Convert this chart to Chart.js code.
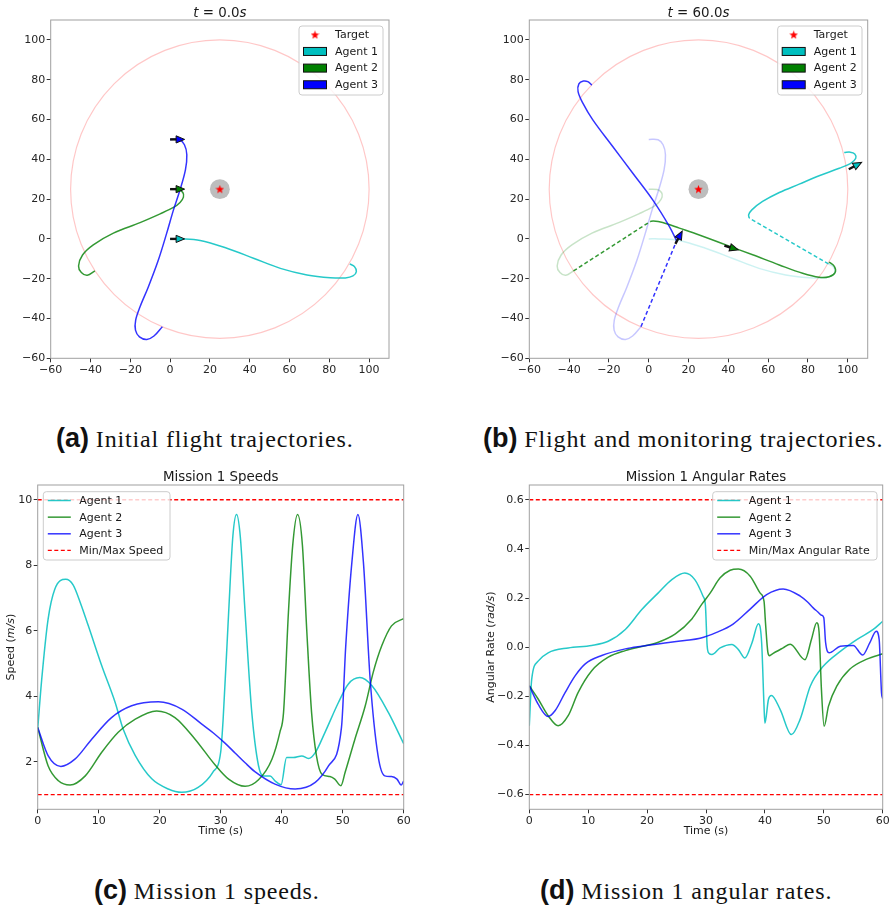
<!DOCTYPE html>
<html><head><meta charset="utf-8">
<script src="https://cdn.jsdelivr.net/npm/chart.js@4.4.1/dist/chart.umd.min.js"></script>
<style>
html,body{margin:0;padding:0;background:#fff;}
body{width:893px;height:912px;position:relative;overflow:hidden;}
canvas{position:absolute;}
.cap{position:absolute;white-space:nowrap;font-family:'Liberation Serif',serif;font-size:24px;letter-spacing:0.85px;line-height:30px;height:30px;color:#111;}
.cap b{font-family:'Liberation Sans',Arial,sans-serif;font-size:27px;letter-spacing:0;}
</style></head><body>
<canvas id="ca" width="446" height="400" style="left:0;top:0"></canvas>
<canvas id="cb" width="447" height="400" style="left:446px;top:0"></canvas>
<canvas id="cc" width="446" height="400" style="left:0;top:455px"></canvas>
<canvas id="cd" width="447" height="400" style="left:446px;top:455px"></canvas>
<div class="cap" style="left:56px;top:423px"><b>(a)</b> Initial flight trajectories.</div>
<div class="cap" style="left:483px;top:423px"><b>(b)</b> Flight and monitoring trajectories.</div>
<div class="cap" style="left:94px;top:875px"><b>(c)</b> Mission 1 speeds.</div>
<div class="cap" style="left:540px;top:875px"><b>(d)</b> Mission 1 angular rates.</div>
<script>
// ---------------- DATA ----------------
const agentLabels = ['Agent 1','Agent 2','Agent 3'];
const targetX = [25], targetY = [25];
const targetAreaRadius = 75, targetNoGoRadius = 5;

// (a) initial trajectories
const a1X=[0,5,15.1,28.5,41.9,55.4,68.8,80.5,88.1,91.9,93.6,92.6,90.3];
const a1Y=[0,0,-0.8,-4.7,-9.7,-14.8,-18.1,-19.5,-19.6,-18.6,-16.4,-13.9,-12.6];
const a2X=[0,4.2,6.4,6.7,5,1.7,-5,-15.1,-28.5,-38.6,-44,-46,-44.6,-41.6,-37.8];
const a2Y=[25,24.8,23.3,21,18.3,15.8,12.6,8.2,2.9,-3.0,-8.1,-13.6,-16.9,-18.3,-16.1];
const a3X=[0,4.7,7.2,8.4,7.7,5,1.7,-1.7,-5.9,-10.9,-15.1,-17.3,-17.4,-15.4,-11.7,-8.1,-3.9];
const a3Y=[50,49.8,47.3,42.3,34.7,24.7,14.6,2.9,-10.6,-24,-34.1,-40.8,-45.8,-49.2,-50.5,-48.8,-44.1];
const arrowAX=[0,0,0], arrowAY=[0,25,50], arrowAHeading=[0,0,0];

// (b) flight and monitoring trajectories
const b1X=[50.5,50.2,51.8,57.2,65.6,75.6,85.6,95.7,101.5,104,103.5,101.2,98.2];
const b1Y=[10.4,12.1,14.6,18.8,23.3,27.5,31.7,35.5,38,40.5,42.7,43.6,43.4];
const b2X=[0.7,2.3,7,15.4,25.4,38.8,52.2,65.6,77.3,85.6,90.6,93.6,93.3,90.6];
const b2Y=[8.7,9.0,8.2,5.4,2.0,-3.0,-8.0,-13.1,-17.3,-19.3,-19.0,-16.9,-13.9,-11.6];
const b3X=[14,10.4,2.0,-8.0,-18.1,-28.1,-33.1,-35.5,-35.1,-32.8,-30.6,-28.6];
const b3Y=[-1,6.2,19.6,33.0,46.4,59.8,68.2,74.0,77.9,79.3,79.0,77.3];
const link1X=[90.3,50.5], link1Y=[-12.6,10.4];
const link2X=[-37.8,0.7], link2Y=[-16.1,8.7];
const link3X=[-3.9,14], link3Y=[-44.1,-1];
const arrowBX=[100.5,38,13.4], arrowBY=[35,-3.4,-2.5], arrowBHeading=[28,-17,62];

// ticks
const posTicks=[-60,-40,-20,0,20,40,60,80,100];
const timeTicks=[0,10,20,30,40,50,60];
const speedTicks=[2,4,6,8,10];
const rateTicks=[-0.6,-0.4,-0.2,0,0.2,0.4,0.6];

// (c) speeds
const s1T=[0,0.65,1.7,2.8,4.6,5.8,7.0,8.3,10.5,12.7,14.0,16.0,18.7,21.4,23.6,26.3,28.7,30.0,30.4,31.3,32.0,32.6,33.2,34.0,35.1,36.2,37.0,38.1,38.9,39.9,40.8,41.9,43.3,44.4,45.5,47.1,49.3,50.9,52.8,54.8,57.5,60];
const s1V=[3.0,4.5,6.35,7.27,7.57,7.4,6.85,6.15,4.93,3.81,3.0,2.19,1.48,1.17,1.07,1.22,1.68,2.3,3.3,6.55,8.9,9.55,8.9,6.55,3.5,1.88,1.57,1.57,1.42,1.3,2.13,2.13,2.18,2.1,2.28,2.9,3.81,4.37,4.57,4.32,3.5,2.55];
const s2T=[0,1.7,3.4,5.3,7.8,10.5,13.2,16.0,19.5,22.5,25.8,29.1,31.3,34.0,36.2,38.4,39.7,40.3,41.1,41.8,42.6,43.4,44.1,44.9,45.7,46.6,47.9,48.7,49.7,50.4,52.0,53.7,55.0,56.4,58.0,60];
const s2V=[3.05,1.88,1.42,1.29,1.57,2.29,2.9,3.3,3.55,3.35,2.69,1.9,1.47,1.25,1.45,2.08,2.9,3.5,6.55,8.6,9.55,8.6,6.04,3.5,2.18,1.62,1.55,1.47,1.27,1.68,2.69,3.71,4.73,5.54,6.15,6.37];
const s3T=[0,1.7,3.8,6.1,8.85,12.1,15.4,19.8,23.6,26.9,28.8,30.7,32.35,34.0,35.6,38.9,42.2,45.5,47.7,49.8,50.5,51.5,52.5,53.4,54.5,55.8,56.9,58.0,58.9,59.6,60];
const s3V=[3.05,2.19,1.86,2.08,2.69,3.35,3.71,3.83,3.61,3.15,2.88,2.57,2.27,1.97,1.7,1.32,1.17,1.37,1.88,3.05,5.54,8.08,9.55,8.08,4.52,2.18,1.57,1.55,1.47,1.29,1.42];
const speedMin=1, speedMax=10;

// (d) angular rates
const r1T=[0,0.4,1.5,3.2,6.6,10.6,13.4,16.3,19.1,21.9,24.2,26.4,28.1,29.5,29.9,30.2,30.5,31.0,32.4,34.4,35.5,36.6,37.8,38.9,39.45,39.85,40.0,40.6,41.1,42.6,44.5,45.96,47.7,49.9,52.8,55.6,58.4,60];
const r1V=[-0.32,-0.132,-0.057,-0.023,-0.003,0.007,0.024,0.072,0.153,0.221,0.275,0.302,0.275,0.207,0.17,0.004,-0.025,-0.03,-0.003,0.011,-0.01,-0.044,0.017,0.095,0.017,-0.24,-0.31,-0.213,-0.197,-0.254,-0.356,-0.295,-0.159,-0.078,-0.017,0.031,0.072,0.105];
const r2T=[0,1.5,3.2,4.9,6.6,8.3,10.6,13.4,16.3,19.1,21.9,24.8,27.6,29.3,30.7,32.4,34.1,35.5,37.5,39.2,39.85,40.1,40.5,40.8,41.1,43.1,44.3,46.8,47.9,48.8,49.2,49.6,50.05,50.8,52.2,54.4,57.3,60];
const r2V=[-0.157,-0.211,-0.279,-0.32,-0.279,-0.184,-0.096,-0.041,-0.014,0.003,0.02,0.054,0.115,0.175,0.22,0.282,0.313,0.318,0.289,0.22,0.187,0.1,-0.02,-0.035,-0.03,-0.003,0.012,-0.051,0.031,0.099,0.06,-0.173,-0.322,-0.24,-0.159,-0.09,-0.049,-0.027];
const r3T=[0,1.5,3.2,4.4,6.1,7.8,9.5,12.3,16.3,19.1,23.0,26.4,29.0,31.8,34.6,37.5,40.3,43.1,46.0,47.2,48.2,49.0,49.6,50.0,50.3,50.9,52.8,55.0,56.6,57.8,58.9,59.4,59.8,60];
const r3V=[-0.157,-0.232,-0.282,-0.258,-0.184,-0.116,-0.068,-0.034,-0.007,0.004,0.017,0.027,0.036,0.06,0.094,0.155,0.214,0.237,0.208,0.185,0.16,0.143,0.13,0.12,0.02,-0.023,0.004,0.007,-0.032,0.017,0.065,0.031,-0.186,-0.21];
const rateMin=-0.6, rateMax=0.6;

// ---------------- STYLE ----------------
const FONT='"DejaVu Sans", sans-serif';
const LINE=['rgba(0,191,191,0.85)','rgba(0,128,0,0.8)','rgba(0,0,255,0.8)'];
const FADE=['rgba(0,191,191,0.2)','rgba(0,128,0,0.22)','rgba(0,0,255,0.22)'];
const SOLID=['#00bfbf','#008000','#0000ff'];
Chart.defaults.font.family=FONT;
Chart.defaults.font.size=11;
Chart.defaults.color='#262626';

const pts=(xs,ys)=>xs.map((x,i)=>({x:x,y:ys[i]}));
const fmtInt=v=>v<0?'\u2212'+Math.abs(v):String(v);
const fmt1=v=>{const s=Math.abs(v).toFixed(1);return v<-1e-9?'\u2212'+s:s;};

function starCanvas(size,color){
  const c=document.createElement('canvas');c.width=c.height=size;
  const x=c.getContext('2d');x.fillStyle=color;x.beginPath();
  for(let i=0;i<10;i++){const r=i%2?size*0.21:size*0.5;const a=-Math.PI/2+i*Math.PI/5;x.lineTo(size/2+r*Math.cos(a),size/2+r*Math.sin(a)+size*0.04);}
  x.closePath();x.fill();return c;
}
const STAR=starCanvas(9,'#ff0000');

function drawRich(ctx,segs,x,y,size,align){
  let w=0;
  for(const s of segs){ctx.font=(s.i?'italic ':'')+size+'px '+FONT;w+=ctx.measureText(s.t).width;}
  let cx=align==='center'?x-w/2:x;
  ctx.textAlign='left';
  for(const s of segs){ctx.font=(s.i?'italic ':'')+size+'px '+FONT;ctx.fillText(s.t,cx,y);cx+=ctx.measureText(s.t).width;}
}

const decor={
  id:'decor',
  beforeDatasetsDraw(chart,args,o){
    if(!o.target) return;
    const ctx=chart.ctx,xs=chart.scales.x,ys=chart.scales.y,ca=chart.chartArea;
    ctx.save();ctx.beginPath();ctx.rect(ca.left,ca.top,ca.right-ca.left,ca.bottom-ca.top);ctx.clip();
    const cx=xs.getPixelForValue(targetX[0]),cy=ys.getPixelForValue(targetY[0]);
    const R=Math.abs(xs.getPixelForValue(targetX[0]+targetAreaRadius)-cx);
    const r=Math.abs(xs.getPixelForValue(targetX[0]+targetNoGoRadius)-cx);
    ctx.strokeStyle='rgba(255,0,0,0.22)';ctx.lineWidth=1.2;
    ctx.beginPath();ctx.arc(cx,cy,R,0,Math.PI*2);ctx.stroke();
    ctx.fillStyle='#bdbdbd';ctx.beginPath();ctx.arc(cx,cy,r,0,Math.PI*2);ctx.fill();
    ctx.restore();
  },
  afterDatasetsDraw(chart,args,o){
    const ctx=chart.ctx,xs=chart.scales.x,ys=chart.scales.y,ca=chart.chartArea;
    if(o.arrows){
      const A=o.arrows;
      for(let i=0;i<A.x.length;i++){
        const px=xs.getPixelForValue(A.x[i]),py=ys.getPixelForValue(A.y[i]);
        const th=-A.h[i]*Math.PI/180;
        ctx.save();ctx.translate(px,py);ctx.rotate(th);
        ctx.strokeStyle='#111';ctx.lineWidth=2.4;
        ctx.beginPath();ctx.moveTo(0,0);ctx.lineTo(8,0);ctx.stroke();
        ctx.fillStyle=SOLID[i];ctx.lineWidth=1;
        ctx.beginPath();ctx.moveTo(6,-3.6);ctx.lineTo(14.5,0);ctx.lineTo(6,3.6);ctx.closePath();ctx.fill();ctx.stroke();
        ctx.restore();
      }
    }
    ctx.save();ctx.strokeStyle='#a0a0a0';ctx.lineWidth=1;
    ctx.strokeRect(ca.left,ca.top,ca.right-ca.left,ca.bottom-ca.top);ctx.restore();
  },
  afterDraw(chart,args,o){
    const ctx=chart.ctx,ca=chart.chartArea;
    ctx.save();ctx.fillStyle='#1a1a1a';ctx.textBaseline='alphabetic';
    if(o.title) drawRich(ctx,o.title,(ca.left+ca.right)/2,o.titleY,13.4,'center');
    if(o.xlabel) drawRich(ctx,o.xlabel,(ca.left+ca.right)/2,o.xlabelY,11,'center');
    if(o.ylabel){ctx.save();ctx.translate(o.ylabelX,(ca.top+ca.bottom)/2);ctx.rotate(-Math.PI/2);ctx.textBaseline='middle';drawRich(ctx,o.ylabel,0,0,11,'center');ctx.restore();}
    const L=o.legend;
    if(L){
      const b=L.box;
      ctx.fillStyle='rgba(255,255,255,0.8)';ctx.strokeStyle='#cccccc';ctx.lineWidth=1;
      const rr=3;ctx.beginPath();
      ctx.moveTo(b.x+rr,b.y);ctx.lineTo(b.x+b.w-rr,b.y);ctx.quadraticCurveTo(b.x+b.w,b.y,b.x+b.w,b.y+rr);
      ctx.lineTo(b.x+b.w,b.y+b.h-rr);ctx.quadraticCurveTo(b.x+b.w,b.y+b.h,b.x+b.w-rr,b.y+b.h);
      ctx.lineTo(b.x+rr,b.y+b.h);ctx.quadraticCurveTo(b.x,b.y+b.h,b.x,b.y+b.h-rr);
      ctx.lineTo(b.x,b.y+rr);ctx.quadraticCurveTo(b.x,b.y,b.x+rr,b.y);ctx.closePath();ctx.fill();ctx.stroke();
      L.items.forEach((it,k)=>{
        const yy=b.y+8.8+k*16.65, x0=b.x+4.5, x1=b.x+27.5;
        if(it.type==='star'){ctx.drawImage(STAR,(x0+x1)/2-4.5,yy-4.5);}
        else if(it.type==='patch'){ctx.fillStyle=it.color;ctx.fillRect(x0,yy-4,x1-x0,8);ctx.strokeStyle='#111';ctx.lineWidth=1;ctx.strokeRect(x0,yy-4,x1-x0,8);}
        else {ctx.strokeStyle=it.color;ctx.lineWidth=it.dash?1.3:1.5;ctx.setLineDash(it.dash||[]);ctx.beginPath();ctx.moveTo(x0,yy);ctx.lineTo(x1,yy);ctx.stroke();ctx.setLineDash([]);}
        ctx.fillStyle='#1a1a1a';ctx.font='11px '+FONT;ctx.textAlign='left';ctx.textBaseline='middle';
        ctx.fillText(it.label,b.x+36,yy+0.5);
      });
    }
    ctx.restore();
  }
};

function axis(min,max,ticks,fmt){
  return {type:'linear',min:min,max:max,
    afterBuildTicks:s=>{s.ticks=ticks.map(v=>({value:v}));},
    grid:{drawOnChartArea:false,drawTicks:true,tickLength:4,color:'#333',lineWidth:1},
    border:{display:false},
    ticks:{callback:fmt,padding:1.5,maxRotation:0,autoSkip:false,color:'#262626',font:{size:11}}};
}

function makeChart(id,canvasBox,plot,datasets,xa,ya,decorOpts){
  const W=canvasBox.w,H=canvasBox.h;
  const p={l:plot.l-canvasBox.left,t:plot.t-canvasBox.top,r:plot.r-canvasBox.left,b:plot.b-canvasBox.top};
  xa.afterFit=s=>{s.height=H-p.b;};
  ya.afterFit=s=>{s.width=p.l;};
  const d=Object.assign({},decorOpts);
  if(d.titleY!==undefined) d.titleY-=canvasBox.top;
  if(d.xlabelY!==undefined) d.xlabelY-=canvasBox.top;
  if(d.ylabelX!==undefined) d.ylabelX-=canvasBox.left;
  if(d.legend){d.legend=Object.assign({},d.legend);const b=d.legend.box;d.legend.box={x:b.x-canvasBox.left,y:b.y-canvasBox.top,w:b.w,h:b.h};}
  return new Chart(document.getElementById(id),{
    type:'scatter',
    data:{datasets:datasets},
    options:{responsive:false,animation:false,events:[],
      layout:{padding:{left:0,top:p.t,right:W-p.r,bottom:0},autoPadding:false},
      scales:{x:xa,y:ya},
      plugins:{legend:{display:false},tooltip:{enabled:false},title:{display:false},decor:d}},
    plugins:[decor]
  });
}

function line(xs,ys,color,extra){
  return Object.assign({data:pts(xs,ys),showLine:true,borderColor:color,backgroundColor:color,borderWidth:1.5,pointRadius:0,tension:0.35,fill:false},extra||{});
}
function targetDs(){
  return {data:pts(targetX,targetY),showLine:false,pointStyle:STAR,pointRadius:4.5,borderWidth:0};
}
const trajLegend={items:[{type:'star',label:'Target'}].concat(agentLabels.map((l,i)=>({type:'patch',color:SOLID[i],label:l})))};

// (a)
makeChart('ca',{left:0,top:0,w:446,h:400},{l:50.7,t:20,r:389,b:358.3},
  [targetDs(),
   line(a3X,a3Y,LINE[2]),line(a2X,a2Y,LINE[1]),line(a1X,a1Y,LINE[0])],
  axis(-60,110,posTicks,fmtInt),axis(-60,110,posTicks,fmtInt),
  {target:true,arrows:{x:arrowAX,y:arrowAY,h:arrowAHeading},
   title:[{t:'t',i:true},{t:' = 0.0'},{t:'s',i:true}],titleY:16.5,
   legend:Object.assign({box:{x:299,y:26,w:84,h:69}},trajLegend)});

// (b)
makeChart('cb',{left:446,top:0,w:447,h:400},{l:529.3,t:20,r:867.7,b:358.3},
  [targetDs(),
   line(b3X,b3Y,LINE[2]),line(b2X,b2Y,LINE[1]),line(b1X,b1Y,LINE[0]),
   line(link3X,link3Y,LINE[2],{borderDash:[4,2.5],tension:0}),
   line(link2X,link2Y,LINE[1],{borderDash:[4,2.5],tension:0}),
   line(link1X,link1Y,LINE[0],{borderDash:[4,2.5],tension:0}),
   line(a3X,a3Y,FADE[2]),line(a2X,a2Y,FADE[1]),line(a1X,a1Y,FADE[0])],
  axis(-60,110,posTicks,fmtInt),axis(-60,110,posTicks,fmtInt),
  {target:true,arrows:{x:arrowBX,y:arrowBY,h:arrowBHeading},
   title:[{t:'t',i:true},{t:' = 60.0'},{t:'s',i:true}],titleY:16.5,
   legend:Object.assign({box:{x:777.7,y:26,w:84.3,h:69}},trajLegend)});

function tsLine(ts,vs,color){return line(ts,vs,color,{cubicInterpolationMode:'monotone'});}
function limit(v,color){return line([0,60],[v,v],color,{borderDash:[4,2.5],borderWidth:1.3,tension:0});}

// (c)
makeChart('cc',{left:0,top:455,w:446,h:400},{l:37.7,t:485,r:403.7,b:809.3},
  [tsLine(s3T,s3V,LINE[2]),tsLine(s2T,s2V,LINE[1]),tsLine(s1T,s1V,LINE[0]),
   limit(speedMax,'#ff0000'),limit(speedMin,'#ff0000')],
  axis(0,60,timeTicks,fmtInt),axis(0.55,10.45,speedTicks,fmtInt),
  {title:[{t:'Mission 1 Speeds'}],titleY:481,
   xlabel:[{t:'Time (s)'}],xlabelY:834,
   ylabel:[{t:'Speed ('},{t:'m/s',i:true},{t:')'}],ylabelX:11.3,
   legend:{box:{x:43.3,y:491.7,w:126.7,h:68.3},items:agentLabels.map((l,i)=>({type:'line',color:LINE[i],label:l})).concat([{type:'line',color:'#ff0000',dash:[4,2.5],label:'Min/Max Speed'}])}});

// (d)
makeChart('cd',{left:446,top:455,w:447,h:400},{l:529.3,t:485,r:882.7,b:809.3},
  [tsLine(r3T,r3V,LINE[2]),tsLine(r2T,r2V,LINE[1]),tsLine(r1T,r1V,LINE[0]),
   limit(rateMax,'#ff0000'),limit(rateMin,'#ff0000')],
  axis(0,60,timeTicks,fmtInt),axis(-0.66,0.66,rateTicks,fmt1),
  {title:[{t:'Mission 1 Angular Rates'}],titleY:481,
   xlabel:[{t:'Time (s)'}],xlabelY:834,
   ylabel:[{t:'Angular Rate ('},{t:'rad/s',i:true},{t:')'}],ylabelX:490.7,
   legend:{box:{x:712.7,y:491.7,w:164.3,h:68.3},items:agentLabels.map((l,i)=>({type:'line',color:LINE[i],label:l})).concat([{type:'line',color:'#ff0000',dash:[4,2.5],label:'Min/Max Angular Rate'}])}});
</script>
</body></html>
